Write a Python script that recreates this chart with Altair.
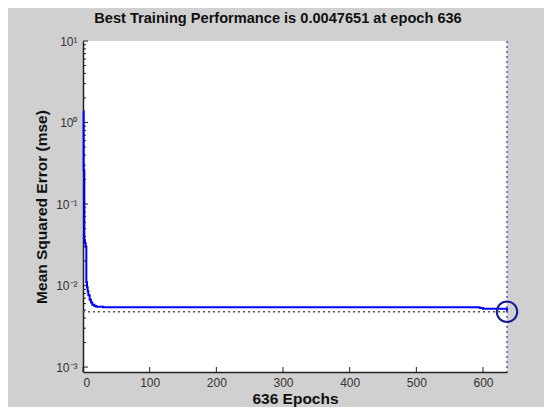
import altair as alt
import pandas as pd

# ---- data ----
epochs = [0, 1, 2, 3, 4, 5, 6, 7, 8, 10, 12, 14, 17, 20, 30, 60, 100, 130, 200,
          300, 400, 500, 595, 600, 630, 636]
mse = [1.37, 0.26, 0.036, 0.033, 0.030, 0.011, 0.0095, 0.0085, 0.0076, 0.0067,
       0.0062, 0.0058, 0.0056, 0.0055, 0.0054, 0.0054, 0.0054, 0.0054, 0.0054,
       0.0054, 0.0054, 0.0054, 0.0053, 0.0052, 0.0052, 0.0047651]
best_epoch = 636
best_mse = 0.0047651
x_ticks = [0, 100, 200, 300, 400, 500, 600]
y_major = [0.001, 0.01, 0.1, 1, 10]
y_minor = [m * d for d in [0.001, 0.01, 0.1, 1] for m in range(2, 10)]

W, H = 424, 331

df = pd.DataFrame({"epoch": epochs, "mse": mse})
best_df = pd.DataFrame({"epoch": [best_epoch], "mse": [best_mse]})
hline_df = pd.DataFrame({"x0": [0], "x1": [best_epoch], "mse": [best_mse]})
vline_df = pd.DataFrame({"epoch": [best_epoch]})
ymaj_df = pd.DataFrame({"v": y_major})
ymin_df = pd.DataFrame({"v": y_minor})
xt_df = pd.DataFrame({"v": x_ticks})

xscale = alt.Scale(domain=[0, 636], nice=False, zero=False)
yscale = alt.Scale(type="log", domain=[0.00087, 10], nice=False)

label_expr = ("datum.value == 10 ? '10¹' : datum.value == 1 ? '10⁰' : "
              "datum.value == 0.1 ? '10⁻¹' : datum.value == 0.01 ? '10⁻²' : '10⁻³'")

x_axis = alt.Axis(values=x_ticks, title="636 Epochs", tickSize=0, grid=False,
                  domainColor="#222222", domainWidth=1.5, labelFont="Liberation Sans",
                  labelFontSize=12, labelColor="#333333", labelPadding=5,
                  titleFont="Liberation Sans", titleFontSize=15.5, titleFontWeight="bold",
                  titleColor="#111111", titlePadding=3)
y_axis = alt.Axis(values=y_major, title="Mean Squared Error  (mse)", tickSize=0,
                  grid=False, labelExpr=label_expr, domainColor="#222222",
                  domainWidth=1.5, labelFont="Liberation Sans", labelFontSize=12,
                  labelColor="#333333", labelPadding=6,
                  titleFont="Liberation Sans", titleFontSize=15.5, titleFontWeight="bold",
                  titleColor="#111111", titlePadding=6)

line = alt.Chart(df).mark_line(color="#0000ff", strokeWidth=2, interpolate="step-after").encode(
    x=alt.X("epoch:Q", scale=xscale, axis=x_axis),
    y=alt.Y("mse:Q", scale=yscale, axis=y_axis),
)

hline = alt.Chart(hline_df).mark_rule(color="#555555", strokeWidth=1.5,
                                      strokeDash=[2, 3]).encode(
    x=alt.X("x0:Q", scale=xscale), x2="x1:Q", y=alt.Y("mse:Q", scale=yscale))

vline = alt.Chart(vline_df).mark_rule(color="#5050d0", strokeWidth=1.5,
                                      strokeDash=[2, 3]).encode(
    x=alt.X("epoch:Q", scale=xscale), y=alt.value(0), y2=alt.value(H))

circle = alt.Chart(best_df).mark_point(shape="circle", size=420, filled=False,
                                       color="#18189a", strokeWidth=2, opacity=1).encode(
    x=alt.X("epoch:Q", scale=xscale), y=alt.Y("mse:Q", scale=yscale))

ymaj = alt.Chart(ymaj_df).mark_rule(color="#222222", strokeWidth=1).encode(
    y=alt.Y("v:Q", scale=yscale), x=alt.value(0), x2=alt.value(5))
ymin = alt.Chart(ymin_df).mark_rule(color="#222222", strokeWidth=1).encode(
    y=alt.Y("v:Q", scale=yscale), x=alt.value(0), x2=alt.value(3))
xt = alt.Chart(xt_df).mark_rule(color="#222222", strokeWidth=1).encode(
    x=alt.X("v:Q", scale=xscale), y=alt.value(H), y2=alt.value(H - 5))

chart = alt.layer(ymin, ymaj, xt, hline, line, vline, circle).properties(
    width=W, height=H,
    title=alt.TitleParams("Best Training Performance is 0.0047651 at epoch 636",
                          font="Liberation Sans", fontSize=14.6, fontWeight="bold",
                          color="#111111", anchor="middle", dx=-17, offset=9),
    background="#d0d0d0",
    padding={"left": 75, "top": 33, "right": 37, "bottom": 35},
    autosize=alt.AutoSizeParams(type="none"),
).configure_view(fill="white", stroke=None)

chart.save("out.html", embed_options={"renderer": "svg", "actions": False})
